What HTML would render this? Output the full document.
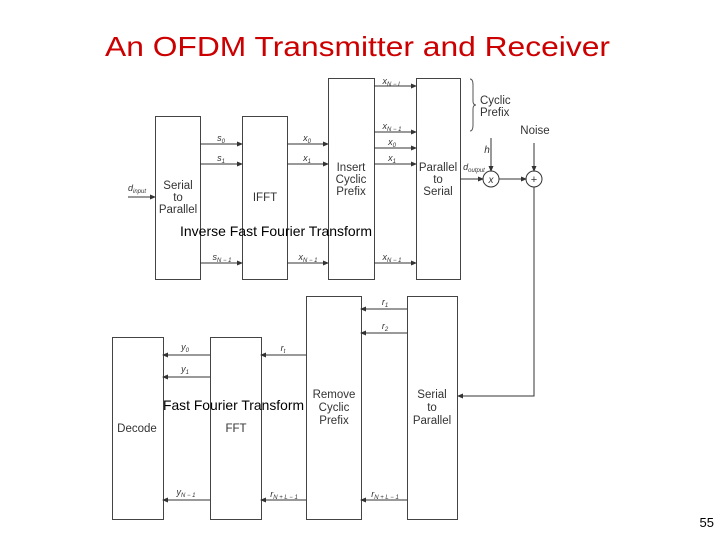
<!DOCTYPE html>
<html><head><style>html,body{margin:0;padding:0;background:#fff}svg{display:block}</style></head><body>
<svg width="720" height="540" xmlns="http://www.w3.org/2000/svg" font-family="Liberation Sans, sans-serif">
<defs><marker id="a" markerWidth="6" markerHeight="6" refX="5" refY="3" orient="auto" markerUnits="userSpaceOnUse"><path d="M0,0.5 L6,3 L0,5.5z" fill="#333"/></marker></defs>
<text x="105" y="56" font-size="28" fill="#cc0000" textLength="505" lengthAdjust="spacingAndGlyphs">An OFDM Transmitter and Receiver</text>
<g fill="none" stroke="#444" stroke-width="1">
<rect x="155.5" y="116.5" width="45" height="163"/>
<rect x="242.5" y="116.5" width="45" height="163"/>
<rect x="328.5" y="78.5" width="46" height="201"/>
<rect x="416.5" y="78.5" width="44" height="201"/>
<rect x="112.5" y="337.5" width="51" height="182"/>
<rect x="210.5" y="337.5" width="51" height="182"/>
<rect x="306.5" y="296.5" width="55" height="223"/>
<rect x="407.5" y="296.5" width="50" height="223"/>
</g>
<g stroke="#333" stroke-width="1" marker-end="url(#a)">
<line x1="128" y1="197" x2="155" y2="197"/>
<line x1="200" y1="144" x2="242" y2="144"/>
<line x1="200" y1="164" x2="242" y2="164"/>
<line x1="200" y1="263" x2="242" y2="263"/>
<line x1="287" y1="144" x2="328" y2="144"/>
<line x1="287" y1="164" x2="328" y2="164"/>
<line x1="287" y1="263" x2="328" y2="263"/>
<line x1="374" y1="86" x2="416" y2="86"/>
<line x1="374" y1="132" x2="416" y2="132"/>
<line x1="374" y1="148" x2="416" y2="148"/>
<line x1="374" y1="164" x2="416" y2="164"/>
<line x1="374" y1="263" x2="416" y2="263"/>
<line x1="460" y1="179" x2="483" y2="179"/>
<line x1="491" y1="138" x2="491" y2="171"/>
<line x1="499" y1="179" x2="526" y2="179"/>
<line x1="534" y1="143" x2="534" y2="171"/>
<polyline fill="none" points="534,187 534,396 458,396"/>
<line x1="407" y1="309" x2="361" y2="309"/>
<line x1="407" y1="333" x2="361" y2="333"/>
<line x1="407" y1="500" x2="361" y2="500"/>
<line x1="306" y1="355" x2="261" y2="355"/>
<line x1="306" y1="500" x2="261" y2="500"/>
<line x1="210" y1="355" x2="163" y2="355"/>
<line x1="210" y1="377" x2="163" y2="377"/>
<line x1="210" y1="500" x2="163" y2="500"/>
</g>
<circle cx="491" cy="179" r="8" fill="none" stroke="#333"/>
<circle cx="534" cy="179" r="8" fill="none" stroke="#333"/>
<text x="491" y="183" font-size="10" font-style="italic" text-anchor="middle" fill="#333">x</text>
<text x="534" y="183" font-size="11" text-anchor="middle" fill="#333">+</text>
<path d="M470,79 q3,0 3,6 v16 q0,4 3,4 q-3,0 -3,4 v16 q0,6 -3,6" fill="none" stroke="#555"/>
<g font-size="11.5" fill="#333" text-anchor="middle">
<text x="178" y="189">Serial</text><text x="178" y="201">to</text><text x="178" y="213">Parallel</text>
<text x="265" y="201">IFFT</text>
<text x="351" y="171">Insert</text><text x="351" y="183">Cyclic</text><text x="351" y="195">Prefix</text>
<text x="438" y="171">Parallel</text><text x="438" y="183">to</text><text x="438" y="195">Serial</text>
<text x="137" y="432">Decode</text>
<text x="236" y="432">FFT</text>
<text x="334" y="398">Remove</text><text x="334" y="411">Cyclic</text><text x="334" y="424">Prefix</text>
<text x="432" y="398">Serial</text><text x="432" y="411">to</text><text x="432" y="424">Parallel</text>
<text x="480" y="104" text-anchor="start">Cyclic</text><text x="480" y="116" text-anchor="start">Prefix</text>
<text x="535" y="134">Noise</text>
</g>
<g font-size="9" font-style="italic" fill="#333" text-anchor="middle">
<text x="221" y="141">s<tspan font-size="6" dy="2">0</tspan></text>
<text x="221" y="161">s<tspan font-size="6" dy="2">1</tspan></text>
<text x="222" y="260">s<tspan font-size="6" dy="2">N − 1</tspan></text>
<text x="307" y="141">x<tspan font-size="6" dy="2">0</tspan></text>
<text x="307" y="161">x<tspan font-size="6" dy="2">1</tspan></text>
<text x="308" y="260">x<tspan font-size="6" dy="2">N − 1</tspan></text>
<text x="392" y="84">x<tspan font-size="6" dy="2">N − L</tspan></text>
<text x="392" y="129">x<tspan font-size="6" dy="2">N − 1</tspan></text>
<text x="392" y="145">x<tspan font-size="6" dy="2">0</tspan></text>
<text x="392" y="161">x<tspan font-size="6" dy="2">1</tspan></text>
<text x="392" y="260">x<tspan font-size="6" dy="2">N − 1</tspan></text>
<text x="137" y="191">d<tspan font-size="6" dy="2">input</tspan></text>
<text x="474" y="170">d<tspan font-size="6" dy="2">output</tspan></text>
<text x="487" y="153" font-size="10">h</text>
<text x="385" y="305">r<tspan font-size="6" dy="2">1</tspan></text>
<text x="385" y="329">r<tspan font-size="6" dy="2">2</tspan></text>
<text x="385" y="497">r<tspan font-size="6" dy="2">N + L − 1</tspan></text>
<text x="283" y="351">r<tspan font-size="6" dy="2">t</tspan></text>
<text x="284" y="497">r<tspan font-size="6" dy="2">N + L − 1</tspan></text>
<text x="185" y="350">y<tspan font-size="6" dy="2">0</tspan></text>
<text x="185" y="372">y<tspan font-size="6" dy="2">1</tspan></text>
<text x="186" y="495">y<tspan font-size="6" dy="2">N − 1</tspan></text>
</g>
<text x="180" y="236" font-size="14" fill="#000" textLength="192" lengthAdjust="spacingAndGlyphs">Inverse Fast Fourier Transform</text>
<text x="163" y="410" font-size="14" fill="#000" textLength="141" lengthAdjust="spacingAndGlyphs">Fast Fourier Transform</text>
<text x="714" y="527" font-size="13" fill="#000" text-anchor="end">55</text>
</svg>
</body></html>
